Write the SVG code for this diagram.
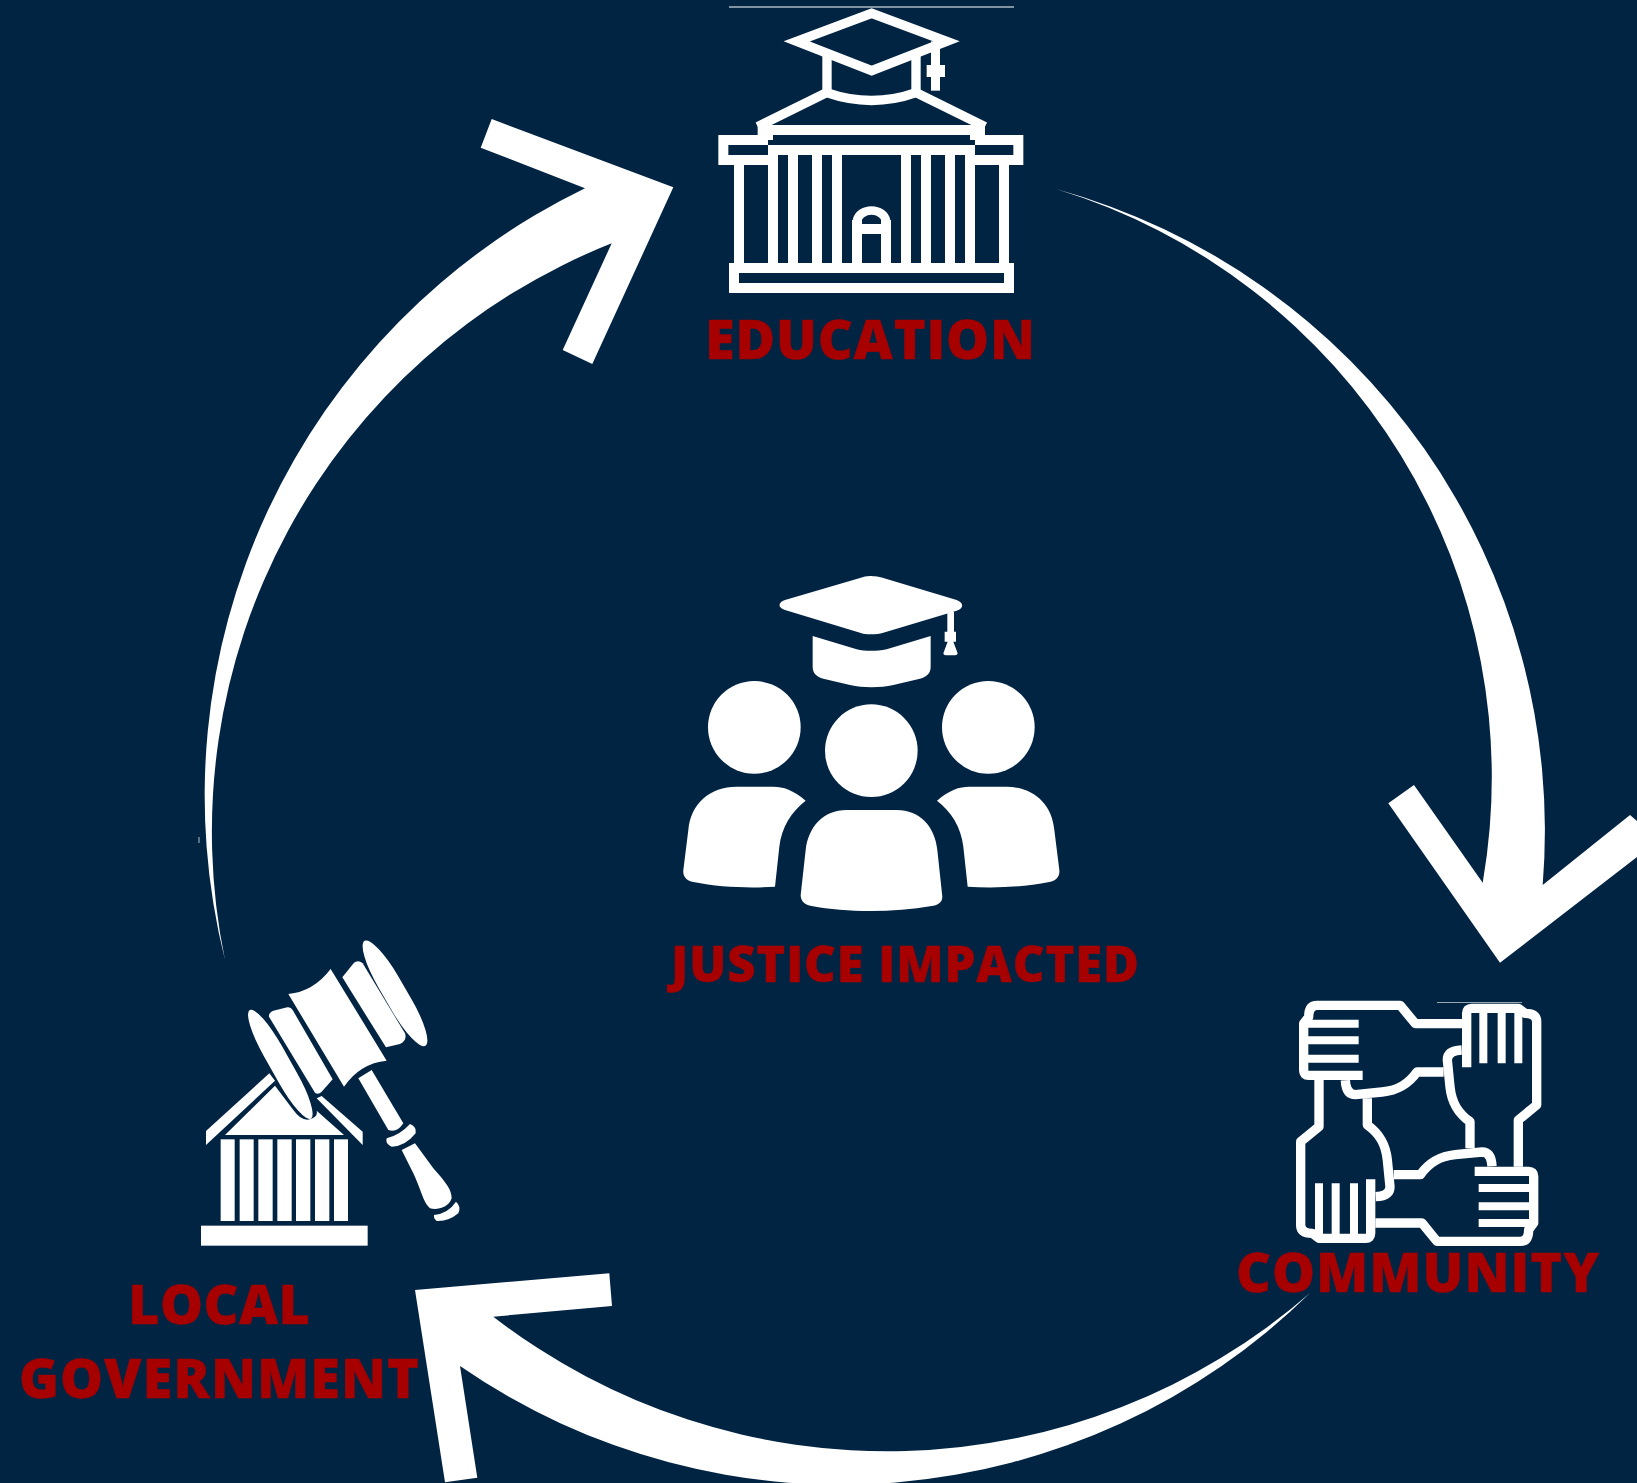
<svg xmlns="http://www.w3.org/2000/svg" width="1637" height="1483" viewBox="0 0 1637 1483">
<style>
.lbl{font-family:"Open Sans","Liberation Sans",sans-serif;font-weight:800;fill:#a70000;stroke:#a70000;stroke-width:.4}
.w{fill:#fff}
.s{fill:none;stroke:#fff;stroke-linejoin:miter}
.r{stroke-linejoin:round;stroke-linecap:butt}
</style>
<defs>
<g id="hand">
<path class="s r" stroke-width="28" d="M895,560 L895,420 L950,375 L950,125 Q950,100 915,100 L895,85 L755,85 Q740,85 740,100 L740,262"/>
<path class="s" stroke-width="24" d="M790,90 L790,250 M845,90 L845,250 M895,90 L895,250"/>
<path class="s r" stroke-width="28" d="M750,505 L750,425 C715,400 695,370 690,320 L682,240 Q682,212 725,210"/>
</g>
</defs>
<rect width="1637" height="1483" fill="#022443"/>
<g id="connectors">
<path class="w" d="M1056,189 A666,666 0 0 1 1542.7,885 L1630,815 L1659,840 L1500,962.7 L1388.3,803.3 L1414,785 L1482.7,882.7 A615,615 0 0 0 1056,189 Z"/>
<path class="w" d="M1310,1293 A644,644 0 0 1 493.3,1316.7 L612,1306 L609.3,1273.3 L415,1290 L445,1482.3 L477.3,1477.7 L460,1366 A670,670 0 0 0 1310,1293 Z"/>
<path class="w" d="M225,960 A675,675 0 0 1 585,188.3 L480.7,147.7 L491.7,119 L673.3,187.3 L592.3,364 L562.7,350 L611.7,243.3 A633,633 0 0 0 225,960 Z"/>
<path d="M199,837V843" stroke="#fff" stroke-width="1" opacity=".7"/>
</g>
<g id="education">
<rect x="729" y="6.5" width="285" height="1" fill="#fff"/>
<g transform="translate(680 0) scale(.33333)">
<g class="s" stroke-width="30">
<rect x="162" y="804" width="825" height="60"/>
<path d="M177,495V790M279,435V790M339,465V790M411,465V790M471,465V790M678,465V790M738,465V790M810,465V790M870,435V790M972,495V790"/>
<path d="M531,790V660M618,790V660M531,687H618"/>
<path d="M233,390H915M264,450H885"/>
<path d="M264,420H130V480H264M885,420H1015V480H885"/>
<path d="M264,390V420M885,390V420"/>
</g>
<path class="s" stroke-width="26" d="M531,662A44,36 0 0 1 618,662"/>
<g class="s" stroke-width="28">
<path d="M233,380L440,278Q575,325 708,278L915,380"/>
<path d="M350,124L575,40L800,124L575,212Z"/>
<path d="M441,165V275M708,165V275"/>
</g>
<rect class="w" x="753" y="124" width="27" height="148"/>
<rect class="w" x="740" y="195" width="55" height="36"/>
</g>
<text class="lbl" x="705" y="359" font-size="54" textLength="330">EDUCATION</text>
</g>
<g id="justice-impacted">
<g transform="translate(660 560) scale(.33333)" class="w">
<path d="M630,48C640,48 660,50 670,54L890,120C912,128 912,145 890,152L670,218C650,224 615,224 600,218L375,150C353,143 353,128 375,120L600,54C610,50 620,48 630,48Z"/>
<path d="M458,228L590,268C615,274 650,274 680,268L812,228V320C812,340 800,350 780,356L700,375C660,384 610,384 570,375L490,356C470,350 458,340 458,320Z"/>
<path d="M862,155H882V215H888V245H880L893,280Q893,286 885,286H858Q850,286 850,280L863,245H854V215H862Z"/>
<circle cx="283" cy="502" r="139"/>
<circle cx="634" cy="572" r="139"/>
<circle cx="985" cy="502" r="139"/>
<path d="M437,722C400,690 370,680 340,680H230C150,680 92,730 85,810L70,930C68,950 80,962 100,966C180,982 270,985 345,980L358,860C365,800 395,755 437,722Z"/>
<path d="M831,722C868,690 898,680 928,680H1038C1118,680 1176,730 1183,810L1198,930C1200,950 1188,962 1168,966C1088,982 998,985 923,980L910,860C903,800 873,755 831,722Z"/>
<path d="M560,750H710C780,750 825,800 832,870L847,1010C847,1030 830,1035 815,1038C700,1058 560,1058 455,1038C435,1034 422,1025 422,1005L437,870C445,800 490,750 560,750Z"/>
</g>
<text class="lbl" x="671" y="982" font-size="49" textLength="468">JUSTICE IMPACTED</text>
</g>
<g id="community">
<rect x="1437" y="1002" width="85" height="1" fill="#fff" opacity=".6"/>
<g transform="translate(1220 980) scale(.33333)">
<use href="#hand"/>
<use href="#hand" transform="rotate(-90 596 430)"/>
<use href="#hand" transform="rotate(180 596 430)"/>
<use href="#hand" transform="rotate(90 596 430)"/>
</g>
<text class="lbl" x="1236" y="1291.5" font-size="54" textLength="363">COMMUNITY</text>
</g>
<g id="local-government">
<g transform="translate(0 920) scale(.33333)" class="w">
<rect x="603" y="917" width="500" height="60"/>
<rect x="662" y="658" width="42" height="245"/>
<rect x="719" y="658" width="42" height="245"/>
<rect x="775" y="658" width="43" height="245"/>
<rect x="832" y="658" width="43" height="245"/>
<rect x="888" y="658" width="43" height="245"/>
<rect x="945" y="658" width="43" height="245"/>
<rect x="1002" y="658" width="42" height="245"/>
<path d="M675,645L825,497L880,570Q905,605 930,598Q955,590 950,572L1032,645Z"/>
<path d="M618,633L808,460L825,482L618,675Z"/>
<path d="M950,535L965,528L1088,635V675Z"/>
<rect x="-187" y="-31" width="374" height="62" rx="140" ry="31" transform="translate(841 433) rotate(60.6)"/>
<rect x="-182" y="-34" width="364" height="68" rx="140" ry="34" transform="translate(1185 220) rotate(59.9)"/>
<path d="M807,290Q805,278 820,272L862,262Q872,260 878,270L998,478L965,515Q955,525 945,518Z"/>
<path d="M1027,172L1062,128Q1075,118 1088,130L1215,340Q1222,360 1200,372L1158,382Z"/>
<path d="M865,222Q940,215 992,147L1160,422Q1080,430 1032,500Z"/>
<path d="M1075,475L1115,450L1210,610Q1190,640 1165,630Z"/>
<path d="M1160,655Q1200,645 1230,612Q1250,620 1247,640Q1215,680 1175,680Q1155,672 1160,655Z"/>
<path d="M1205,690L1245,670L1300,745C1340,790 1355,810 1355,835C1345,865 1310,870 1290,865C1270,850 1260,800 1240,760Z"/>
<path d="M1302,885Q1345,880 1368,845Q1385,860 1375,880Q1345,905 1310,903Q1300,895 1302,885Z"/>
</g>
<text class="lbl" x="128" y="1324" font-size="54" textLength="182">LOCAL</text>
<text class="lbl" x="19" y="1398" font-size="54" textLength="400">GOVERNMENT</text>
</g>
</svg>
